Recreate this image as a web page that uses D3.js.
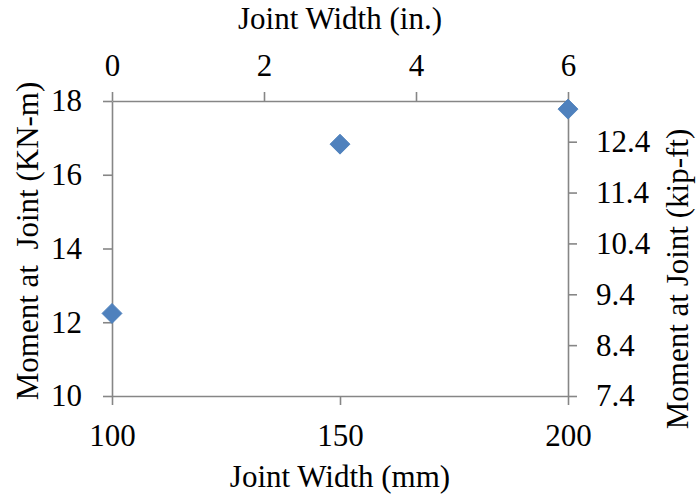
<!DOCTYPE html>
<html>
<head>
<meta charset="utf-8">
<script src="https://cdn.jsdelivr.net/npm/d3@7"></script>
<style>
  html, body { margin: 0; padding: 0; background: #fff; }
  svg { display: block; }
  text { font-family: "Liberation Serif", "Times New Roman", serif; fill: #000; }
</style>
</head>
<body>
<svg id="chart" width="696" height="499"></svg>
<script>
// ---- data ----
const jointWidthMM = [100, 150, 200];
const momentKNm = [12.24, 16.83, 17.78];

const bottomTicks = [100, 150, 200];
const topTicks = [0, 2, 4, 6];
const leftTicks = [10, 12, 14, 16, 18];
const rightTicks = [7.4, 8.4, 9.4, 10.4, 11.4, 12.4];

const bottomTitle = "Joint Width (mm)";
const topTitle = "Joint Width (in.)";
const leftTitle = "Moment at  Joint (KN-m)";
const rightTitle = "Moment at Joint (kip-ft)";

// ---- layout ----
const svg = d3.select("#chart");
const L = 112, R = 568, T = 101, B = 396;
const fontSize = 31;
const axisColor = "#868686";
const tickLen = 9;

const x = d3.scaleLinear().domain([100, 200]).range([L, R]);
const xTop = d3.scaleLinear().domain([0, 6]).range([L, R]);
const y = d3.scaleLinear().domain([10, 18]).range([B, T]);
const yRight = d3.scaleLinear().domain([7.4, 13.2]).range([B, T]);

function style(g) {
  g.select(".domain").attr("stroke", axisColor).attr("stroke-width", 1.6);
  g.selectAll(".tick line").attr("stroke", axisColor).attr("stroke-width", 1.6);
  g.selectAll(".tick text")
    .style("font-family", '"Liberation Serif", "Times New Roman", serif')
    .style("font-size", fontSize + "px")
    .attr("fill", "#000");
}

svg.append("g").attr("transform", `translate(0,${B})`)
  .call(d3.axisBottom(x).tickValues(bottomTicks).tickSize(tickLen).tickSizeOuter(0).tickPadding(19).tickFormat(d3.format("d")))
  .call(style);

svg.append("g").attr("transform", `translate(0,${T})`)
  .call(d3.axisTop(xTop).tickValues(topTicks).tickSize(tickLen).tickSizeOuter(0).tickPadding(16).tickFormat(d3.format("d")))
  .call(style);

svg.append("g").attr("transform", `translate(${L},0)`)
  .call(d3.axisLeft(y).tickValues(leftTicks).tickSize(tickLen).tickSizeOuter(0).tickPadding(21).tickFormat(d3.format("d")))
  .call(style);

svg.append("g").attr("transform", `translate(${R},0)`)
  .call(d3.axisRight(yRight).tickValues(rightTicks).tickSize(tickLen).tickSizeOuter(0).tickPadding(19).tickFormat(d3.format(".1f")))
  .call(style);

// ---- points ----
const diamond = d3.symbol().type(d3.symbolSquare).size(200);
svg.append("g").selectAll("path")
  .data(jointWidthMM.map((d, i) => [d, momentKNm[i]]))
  .join("path")
  .attr("d", diamond)
  .attr("transform", d => `translate(${x(d[0])},${y(d[1])}) rotate(45)`)
  .attr("fill", "#4F81BD")
  .attr("stroke", "#4A7EBB")
  .attr("stroke-width", 0.8);

// ---- titles ----
svg.append("text").attr("x", (L + R) / 2).attr("y", 487)
  .attr("text-anchor", "middle").style("font-size", fontSize + "px").text(bottomTitle);
svg.append("text").attr("x", (L + R) / 2).attr("y", 29)
  .attr("text-anchor", "middle").style("font-size", fontSize + "px").text(topTitle);
svg.append("text").attr("transform", `translate(38,241) rotate(-90)`)
  .attr("text-anchor", "middle").style("font-size", fontSize + "px").style("white-space", "pre").text(leftTitle);
svg.append("text").attr("transform", `translate(688,279) rotate(-90)`)
  .attr("text-anchor", "middle").style("font-size", fontSize + "px").text(rightTitle);
</script>
</body>
</html>
